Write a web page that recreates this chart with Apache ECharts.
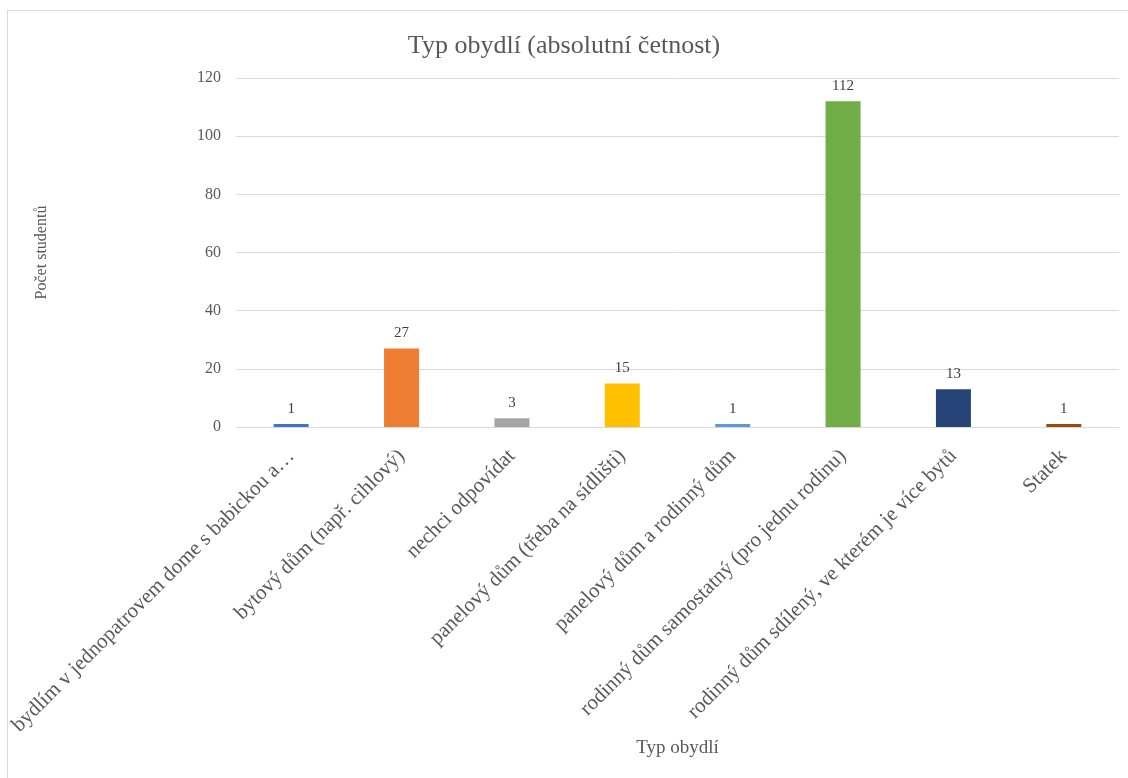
<!DOCTYPE html>
<html>
<head>
<meta charset="utf-8">
<script src="https://cdn.jsdelivr.net/npm/echarts@6/dist/echarts.min.js"></script>
<style>
html,body{margin:0;padding:0;background:#fff;overflow:hidden;}
#frame{position:absolute;left:7px;top:10px;width:1130px;height:780px;border:1px solid #d9d9d9;box-sizing:border-box;}
#chart{position:absolute;left:0;top:0;width:1128px;height:778px;}
</style>
</head>
<body>
<div id="frame"></div>
<div id="chart"></div>
<script>
const categories = [
  "bydlím v jednopatrovem dome s babickou a…",
  "bytový dům (např. cihlový)",
  "nechci odpovídat",
  "panelový dům (třeba na sídlišti)",
  "panelový dům a rodinný dům",
  "rodinný dům samostatný (pro jednu rodinu)",
  "rodinný dům sdílený, ve kterém je více bytů",
  "Statek"
];
const values = [1, 27, 3, 15, 1, 112, 13, 1];
const colors = ["#4472C4", "#ED7D31", "#A5A5A5", "#FFC000", "#5B9BD5", "#70AD47", "#264478", "#9E480E"];
const yTicks = [0, 20, 40, 60, 80, 100, 120];

const font = "'Liberation Serif', 'Times New Roman', serif";
const chart = echarts.init(document.getElementById('chart'));
chart.setOption({
  animation: false,
  textStyle: { fontFamily: font },
  title: {
    text: "Typ obydlí (absolutní četnost)",
    left: 'center', top: 28,
    textStyle: { fontFamily: font, fontSize: 26, fontWeight: 'normal', color: '#595959' }
  },
  grid: { left: 236, right: 9, top: 78, bottom: 351, containLabel: false, outerBoundsMode: 'none' },
  xAxis: {
    type: 'category',
    data: categories,
    name: "Typ obydlí",
    nameLocation: 'middle',
    nameGap: 309,
    nameTextStyle: { fontFamily: font, fontSize: 19, color: '#595959' },
    axisLine: { lineStyle: { color: '#d9d9d9' } },
    axisTick: { show: false },
    axisLabel: { rotate: 45, interval: 0, fontFamily: font, fontSize: 21, color: '#595959', margin: 26 }
  },
  yAxis: {
    type: 'value',
    min: yTicks[0], max: yTicks[yTicks.length - 1], interval: 20,
    name: "Počet studentů",
    nameLocation: 'middle',
    nameGap: 186,
    nameTextStyle: { fontFamily: font, fontSize: 16, color: '#595959' },
    axisLine: { show: false },
    axisTick: { show: false },
    axisLabel: { fontFamily: font, fontSize: 16, color: '#595959', margin: 15 },
    splitLine: { lineStyle: { color: '#d9d9d9' } }
  },
  series: [{
    type: 'bar',
    barWidth: 35,
    data: values.map((v, i) => ({ value: v, itemStyle: { color: colors[i] } })),
    label: { show: true, position: 'top', fontFamily: font, fontSize: 15, color: '#404040', distance: 8 }
  }]
});
</script>
</body>
</html>
